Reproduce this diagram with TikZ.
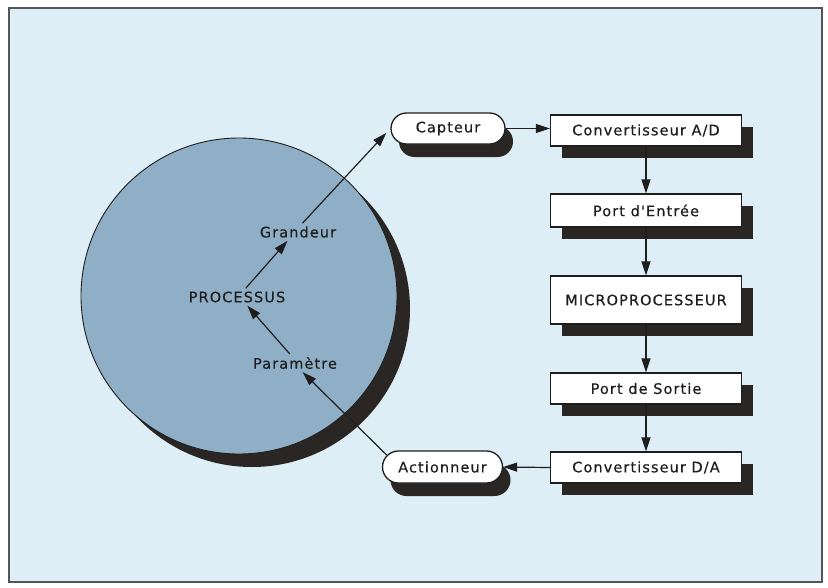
\documentclass[tikz,border=0pt]{standalone}
\usepackage{fontspec}
\newfontfamily\lblfont[LetterSpace=7.5,FakeBold=0.4]{DejaVu Sans}
\usetikzlibrary{arrows.meta,shapes.misc,shadows}
\definecolor{bgc}{RGB}{222,238,246}
\definecolor{circc}{RGB}{143,175,198}
\definecolor{shc}{RGB}{42,38,36}
\definecolor{inkc}{RGB}{30,30,30}
\definecolor{framec}{RGB}{85,85,85}
\begin{document}
\begin{tikzpicture}[x=1pt,y=-1pt,
  basebox/.style={draw=inkc, line width=1.3pt, fill=white, inner sep=0pt,
    minimum height=31pt, text=inkc, font=\lblfont\fontsize{14.5}{17}\selectfont},
  rectbox/.style={basebox, rectangle, minimum width=191pt,
    drop shadow={shadow xshift=11pt, shadow yshift=-12pt, fill=shc, opacity=1}},
  pillbox/.style={basebox, rounded rectangle, minimum width=114pt,
    drop shadow={shadow xshift=8pt, shadow yshift=-13pt, fill=shc, opacity=1}},
  lbl/.style={inner sep=3pt, text=inkc, font=\lblfont\fontsize{14.5}{17}\selectfont},
  arr/.style={draw=inkc, line width=1.2pt, -{Triangle[length=14pt,width=9pt]}}
]
\useasboundingbox[fill=white] (0,0) rectangle (828,587);
\draw[fill=bgc, draw=framec, line width=1.8pt] (9,8) rectangle (822,582);

% process disk
\node (disk) [circle, draw=inkc, line width=0.9pt, fill=circc, minimum size=316pt, inner sep=0pt,
  drop shadow={shadow xshift=13pt, shadow yshift=-13pt, fill=shc, opacity=1}] at (239,296) {};

\node[lbl] (proc) at (237,297) {PROCESSUS};
\node[lbl] (grand) at (298,232) {Grandeur};
\node[lbl] (param) at (295,363) {Paramètre};

% chain
\node[pillbox] (capt) at (448,128.5) {Capteur};
\node[rectbox] (cad) at (646,130.5) {Convertisseur A/D};
\node[rectbox, minimum height=33pt] (pe) at (646,210.5) {Port d'Entrée};
\node[rectbox, minimum height=48pt] (micro) at (646,300) {MICROPROCESSEUR};
\node[rectbox] (ps) at (646,388.5) {Port de Sortie};
\node[rectbox] (cda) at (646,467.5) {Convertisseur D/A};
\node[pillbox, minimum width=120pt, minimum height=32pt] (act) at (442.5,467) {Actionneur};

% connectors
\draw[arr] (capt.east) -- (capt.east -| cad.west);
\draw[arr] (cad.south) -- (pe.north);
\draw[arr] (pe.south) -- (micro.north);
\draw[arr] (micro.south) -- (ps.north);
\draw[arr] (ps.south) -- (cda.north);
\draw[arr] (cda.west) -- (act.east);

\draw[arr] (act.168) -- (param.-50);
\draw[arr] (param.120) -- (proc.-40);
\draw[arr] (proc.45) -- (grand.220);
\draw[arr, shorten >=6pt] (grand.63) -- (capt.west);
\end{tikzpicture}
\end{document}
